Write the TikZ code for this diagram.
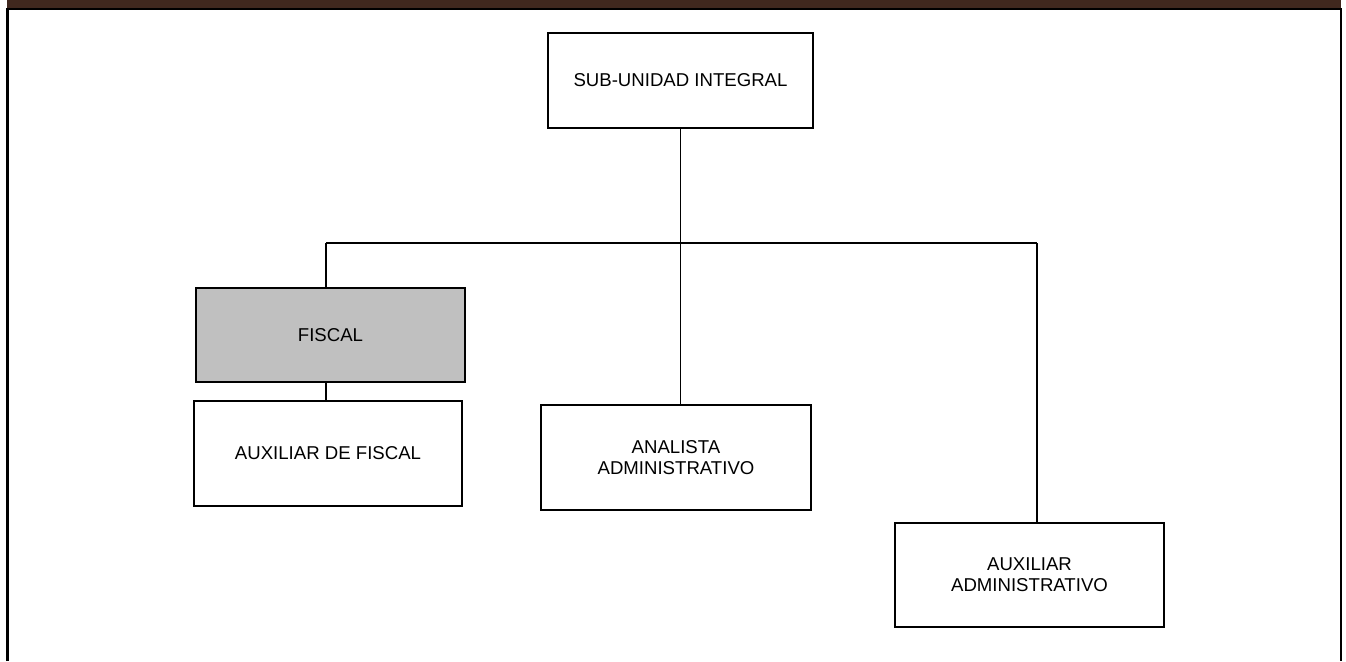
\documentclass[tikz,border=0pt]{standalone}
\usepackage{fontspec}
\setmainfont{Liberation Sans}
\usetikzlibrary{positioning}
\definecolor{framebrown}{RGB}{64,40,30}
\definecolor{fiscalgray}{RGB}{192,192,192}

\begin{document}
\begin{tikzpicture}[x=0.5pt,y=-0.5pt]
   \useasboundingbox (0,0) rectangle (1346,661);
   \tikzstyle{box}=[rectangle, draw=black, line width=0.75pt, align=center, inner sep=0pt,
      font=\fontsize{9.3}{10.5}\selectfont]
   % frame
   \fill[framebrown] (7,0) rectangle (1341,8);
   \draw[line width=1.3pt] (7.5,661) -- (7.5,9) -- (1341,9) -- (1341,661);
   % boxes
   \node[box, minimum width=132.5pt, minimum height=47.5pt] (sub) at (680.5,80.5) {SUB-UNIDAD INTEGRAL};
   \node[box, fill=fiscalgray, minimum width=134.5pt, minimum height=47pt] (fiscal) at (330.5,335) {FISCAL};
   \node[box, minimum width=134pt, minimum height=52.5pt] (auxfiscal) at (328,453.5) {AUXILIAR DE FISCAL};
   \node[box, minimum width=135pt, minimum height=52.5pt] (analista) at (676,457.5) {ANALISTA\\ADMINISTRATIVO};
   \node[box, minimum width=134.5pt, minimum height=52pt] (auxadmin) at (1029.5,575) {AUXILIAR\\ADMINISTRATIVO};
   % connectors
   \coordinate (busL) at (326,243);
   \coordinate (busR) at (1037,243);
   \tikzstyle{link}=[line width=0.85pt]
   \draw[link] (sub.south) -- (sub.south |- analista.north);
   \draw[link] (busL) -- (busR);
   \draw[link] (busL) -- (busL |- fiscal.north);
   \draw[link] (busL |- fiscal.south) -- (busL |- auxfiscal.north);
   \draw[link] (busR) -- (busR |- auxadmin.north);
\end{tikzpicture}
\end{document}
